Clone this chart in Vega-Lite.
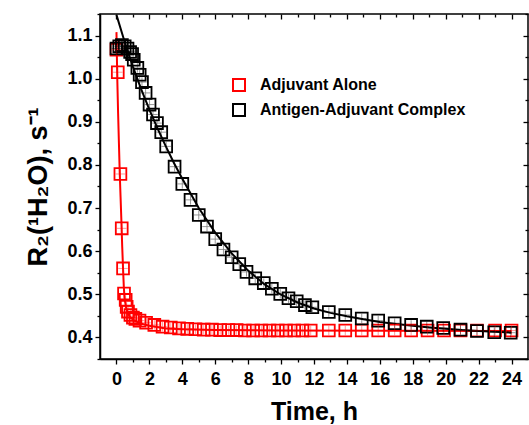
{
  "$schema": "https://vega.github.io/schema/vega-lite/v6.json",
  "width": 428,
  "height": 345,
  "autosize": {"type": "none"},
  "padding": {"left": 100, "top": 14, "right": 1, "bottom": 66},
  "background": "white",
  "config": {
    "view": {"stroke": "black", "strokeWidth": 1.5},
    "font": "Liberation Sans",
    "axis": {
      "domainColor": "black", "domainWidth": 1.5, "tickColor": "black", "tickWidth": 1.3,
      "labelFont": "Liberation Sans", "labelFontWeight": "bold", "labelFontSize": 18, "labelColor": "black",
      "titleFont": "Liberation Sans", "titleFontWeight": "bold", "titleColor": "black", "grid": false
    }
  },
  "datasets": {
    "pts": [
      {"series": "Adjuvant Alone", "t": 0.0, "r2": 1.067},
      {"series": "Adjuvant Alone", "t": 0.08, "r2": 1.015},
      {"series": "Adjuvant Alone", "t": 0.24, "r2": 0.779},
      {"series": "Adjuvant Alone", "t": 0.32, "r2": 0.653},
      {"series": "Adjuvant Alone", "t": 0.40, "r2": 0.560},
      {"series": "Adjuvant Alone", "t": 0.46, "r2": 0.502},
      {"series": "Adjuvant Alone", "t": 0.56, "r2": 0.487},
      {"series": "Adjuvant Alone", "t": 0.62, "r2": 0.471},
      {"series": "Adjuvant Alone", "t": 0.70, "r2": 0.460},
      {"series": "Adjuvant Alone", "t": 0.85, "r2": 0.452},
      {"series": "Adjuvant Alone", "t": 1.0, "r2": 0.446},
      {"series": "Adjuvant Alone", "t": 1.15, "r2": 0.443},
      {"series": "Adjuvant Alone", "t": 1.4, "r2": 0.439},
      {"series": "Adjuvant Alone", "t": 1.8, "r2": 0.434},
      {"series": "Adjuvant Alone", "t": 2.3, "r2": 0.429},
      {"series": "Adjuvant Alone", "t": 2.8, "r2": 0.425},
      {"series": "Adjuvant Alone", "t": 3.3, "r2": 0.423},
      {"series": "Adjuvant Alone", "t": 3.8, "r2": 0.421},
      {"series": "Adjuvant Alone", "t": 4.3, "r2": 0.420},
      {"series": "Adjuvant Alone", "t": 4.8, "r2": 0.419},
      {"series": "Adjuvant Alone", "t": 5.3, "r2": 0.418},
      {"series": "Adjuvant Alone", "t": 5.8, "r2": 0.418},
      {"series": "Adjuvant Alone", "t": 6.3, "r2": 0.417},
      {"series": "Adjuvant Alone", "t": 6.8, "r2": 0.417},
      {"series": "Adjuvant Alone", "t": 7.3, "r2": 0.417},
      {"series": "Adjuvant Alone", "t": 7.8, "r2": 0.416},
      {"series": "Adjuvant Alone", "t": 8.3, "r2": 0.416},
      {"series": "Adjuvant Alone", "t": 8.8, "r2": 0.416},
      {"series": "Adjuvant Alone", "t": 9.3, "r2": 0.416},
      {"series": "Adjuvant Alone", "t": 9.8, "r2": 0.416},
      {"series": "Adjuvant Alone", "t": 10.3, "r2": 0.416},
      {"series": "Adjuvant Alone", "t": 10.8, "r2": 0.416},
      {"series": "Adjuvant Alone", "t": 11.3, "r2": 0.416},
      {"series": "Adjuvant Alone", "t": 11.8, "r2": 0.416},
      {"series": "Adjuvant Alone", "t": 12.9, "r2": 0.416},
      {"series": "Adjuvant Alone", "t": 13.9, "r2": 0.416},
      {"series": "Adjuvant Alone", "t": 14.9, "r2": 0.416},
      {"series": "Adjuvant Alone", "t": 15.9, "r2": 0.416},
      {"series": "Adjuvant Alone", "t": 16.9, "r2": 0.416},
      {"series": "Adjuvant Alone", "t": 17.9, "r2": 0.416},
      {"series": "Adjuvant Alone", "t": 18.9, "r2": 0.416},
      {"series": "Adjuvant Alone", "t": 19.9, "r2": 0.416},
      {"series": "Adjuvant Alone", "t": 20.9, "r2": 0.416},
      {"series": "Adjuvant Alone", "t": 21.9, "r2": 0.416},
      {"series": "Adjuvant Alone", "t": 23.0, "r2": 0.416},
      {"series": "Adjuvant Alone", "t": 24.0, "r2": 0.416},
      {"series": "Antigen-Adjuvant Complex", "t": 0.0, "r2": 1.070},
      {"series": "Antigen-Adjuvant Complex", "t": 0.17, "r2": 1.075},
      {"series": "Antigen-Adjuvant Complex", "t": 0.33, "r2": 1.078},
      {"series": "Antigen-Adjuvant Complex", "t": 0.5, "r2": 1.075},
      {"series": "Antigen-Adjuvant Complex", "t": 0.67, "r2": 1.070},
      {"series": "Antigen-Adjuvant Complex", "t": 0.83, "r2": 1.062},
      {"series": "Antigen-Adjuvant Complex", "t": 0.95, "r2": 1.057},
      {"series": "Antigen-Adjuvant Complex", "t": 1.05, "r2": 1.044},
      {"series": "Antigen-Adjuvant Complex", "t": 1.27, "r2": 1.025},
      {"series": "Antigen-Adjuvant Complex", "t": 1.41, "r2": 1.009},
      {"series": "Antigen-Adjuvant Complex", "t": 1.55, "r2": 0.992},
      {"series": "Antigen-Adjuvant Complex", "t": 1.77, "r2": 0.967},
      {"series": "Antigen-Adjuvant Complex", "t": 2.01, "r2": 0.940},
      {"series": "Antigen-Adjuvant Complex", "t": 2.22, "r2": 0.917},
      {"series": "Antigen-Adjuvant Complex", "t": 2.46, "r2": 0.897},
      {"series": "Antigen-Adjuvant Complex", "t": 2.72, "r2": 0.876},
      {"series": "Antigen-Adjuvant Complex", "t": 3.02, "r2": 0.843},
      {"series": "Antigen-Adjuvant Complex", "t": 3.53, "r2": 0.796},
      {"series": "Antigen-Adjuvant Complex", "t": 4.0, "r2": 0.756},
      {"series": "Antigen-Adjuvant Complex", "t": 4.5, "r2": 0.719},
      {"series": "Antigen-Adjuvant Complex", "t": 5.0, "r2": 0.684},
      {"series": "Antigen-Adjuvant Complex", "t": 5.5, "r2": 0.657},
      {"series": "Antigen-Adjuvant Complex", "t": 6.0, "r2": 0.628},
      {"series": "Antigen-Adjuvant Complex", "t": 6.5, "r2": 0.604},
      {"series": "Antigen-Adjuvant Complex", "t": 7.0, "r2": 0.586},
      {"series": "Antigen-Adjuvant Complex", "t": 7.46, "r2": 0.570},
      {"series": "Antigen-Adjuvant Complex", "t": 7.9, "r2": 0.552},
      {"series": "Antigen-Adjuvant Complex", "t": 8.43, "r2": 0.537},
      {"series": "Antigen-Adjuvant Complex", "t": 8.95, "r2": 0.526},
      {"series": "Antigen-Adjuvant Complex", "t": 9.44, "r2": 0.513},
      {"series": "Antigen-Adjuvant Complex", "t": 9.95, "r2": 0.501},
      {"series": "Antigen-Adjuvant Complex", "t": 10.45, "r2": 0.491},
      {"series": "Antigen-Adjuvant Complex", "t": 10.95, "r2": 0.484},
      {"series": "Antigen-Adjuvant Complex", "t": 11.45, "r2": 0.475},
      {"series": "Antigen-Adjuvant Complex", "t": 11.9, "r2": 0.470},
      {"series": "Antigen-Adjuvant Complex", "t": 12.9, "r2": 0.459},
      {"series": "Antigen-Adjuvant Complex", "t": 13.9, "r2": 0.452},
      {"series": "Antigen-Adjuvant Complex", "t": 14.9, "r2": 0.444},
      {"series": "Antigen-Adjuvant Complex", "t": 15.9, "r2": 0.439},
      {"series": "Antigen-Adjuvant Complex", "t": 16.9, "r2": 0.433},
      {"series": "Antigen-Adjuvant Complex", "t": 17.9, "r2": 0.429},
      {"series": "Antigen-Adjuvant Complex", "t": 18.85, "r2": 0.425},
      {"series": "Antigen-Adjuvant Complex", "t": 19.85, "r2": 0.422},
      {"series": "Antigen-Adjuvant Complex", "t": 20.9, "r2": 0.418},
      {"series": "Antigen-Adjuvant Complex", "t": 21.9, "r2": 0.415},
      {"series": "Antigen-Adjuvant Complex", "t": 22.95, "r2": 0.412},
      {"series": "Antigen-Adjuvant Complex", "t": 23.95, "r2": 0.411}
    ],
    "fitRed": [
      {"t": 0.0, "r2": 1.108}, {"t": 0.05, "r2": 1.0}, {"t": 0.1, "r2": 0.92}, {"t": 0.15, "r2": 0.85},
      {"t": 0.2, "r2": 0.78}, {"t": 0.25, "r2": 0.725}, {"t": 0.3, "r2": 0.67}, {"t": 0.35, "r2": 0.61},
      {"t": 0.4, "r2": 0.56}, {"t": 0.45, "r2": 0.515}, {"t": 0.5, "r2": 0.488}, {"t": 0.6, "r2": 0.466},
      {"t": 0.8, "r2": 0.448}, {"t": 1.0, "r2": 0.441}, {"t": 1.4, "r2": 0.433}, {"t": 2.0, "r2": 0.427},
      {"t": 3.0, "r2": 0.421}, {"t": 4.0, "r2": 0.419}, {"t": 6.0, "r2": 0.417}, {"t": 10.0, "r2": 0.416},
      {"t": 24.0, "r2": 0.415}
    ],
    "fitBlack": [
      {"t": 0.0, "r2": 1.148}, {"t": 0.5, "r2": 1.085}, {"t": 1.0, "r2": 1.028}, {"t": 1.5, "r2": 0.976},
      {"t": 2.0, "r2": 0.928}, {"t": 2.5, "r2": 0.884}, {"t": 3.0, "r2": 0.843}, {"t": 3.5, "r2": 0.804},
      {"t": 4.0, "r2": 0.768}, {"t": 5.0, "r2": 0.700}, {"t": 6.0, "r2": 0.643}, {"t": 7.0, "r2": 0.595},
      {"t": 8.0, "r2": 0.555}, {"t": 9.0, "r2": 0.523}, {"t": 10.0, "r2": 0.499}, {"t": 11.0, "r2": 0.481},
      {"t": 12.0, "r2": 0.467}, {"t": 13.0, "r2": 0.457}, {"t": 14.0, "r2": 0.449}, {"t": 15.0, "r2": 0.442},
      {"t": 16.0, "r2": 0.436}, {"t": 17.0, "r2": 0.431}, {"t": 18.0, "r2": 0.427}, {"t": 19.0, "r2": 0.423},
      {"t": 20.0, "r2": 0.420}, {"t": 21.0, "r2": 0.417}, {"t": 22.0, "r2": 0.415}, {"t": 23.0, "r2": 0.413},
      {"t": 24.0, "r2": 0.411}
    ]
  },
  "resolve": {"axis": {"x": "independent", "y": "independent"}},
  "layer": [
    {
      "data": {"name": "fitRed"},
      "mark": {"type": "line", "color": "#ff0000", "strokeWidth": 2, "clip": true},
      "encoding": {
        "x": {"field": "t", "type": "quantitative", "scale": {"domain": [-1, 25], "nice": false, "zero": false},
          "axis": {"orient": "bottom", "title": "Time, h", "titleFontSize": 25, "titlePadding": 11,
            "values": [0,1,2,3,4,5,6,7,8,9,10,11,12,13,14,15,16,17,18,19,20,21,22,23,24],
            "labelExpr": "datum.value % 2 == 0 ? datum.label : ''",
            "tickSize": {"condition": {"test": "datum.value % 2 == 0", "value": 5}, "value": 3},
            "labelPadding": 6}},
        "y": {"field": "r2", "type": "quantitative", "scale": {"domain": [0.35, 1.15], "nice": false, "zero": false},
          "axis": {"orient": "left", "title": "R₂(¹H₂O), s⁻¹", "titleFontSize": 27, "titlePadding": 14,
            "values": [0.35,0.4,0.45,0.5,0.55,0.6,0.65,0.7,0.75,0.8,0.85,0.9,0.95,1.0,1.05,1.1,1.15],
            "labelExpr": "abs(datum.value*10 - round(datum.value*10)) < 0.001 && datum.value < 1.14 && datum.value > 0.36 ? format(datum.value, '.1f') : ''",
            "tickSize": {"condition": {"test": "abs(datum.value*10 - round(datum.value*10)) < 0.001", "value": 5}, "value": 3},
            "labelPadding": 3}}
      }
    },
    {
      "data": {"name": "fitBlack"},
      "mark": {"type": "line", "color": "#000000", "strokeWidth": 2, "clip": true},
      "encoding": {
        "x": {"field": "t", "type": "quantitative", "axis": null},
        "y": {"field": "r2", "type": "quantitative", "axis": null}
      }
    },
    {
      "data": {"name": "pts"},
      "mark": {"type": "point", "shape": "square", "filled": false, "size": 140, "strokeWidth": 1.8, "opacity": 1},
      "encoding": {
        "x": {"field": "t", "type": "quantitative",
          "axis": {"orient": "top", "title": null, "labels": false, "domain": false,
            "values": [0,1,2,3,4,5,6,7,8,9,10,11,12,13,14,15,16,17,18,19,20,21,22,23,24],
            "tickSize": {"condition": {"test": "datum.value % 2 == 0", "value": -5}, "value": -3}}},
        "y": {"field": "r2", "type": "quantitative",
          "axis": {"orient": "right", "title": null, "labels": false, "domain": false,
            "values": [0.35,0.4,0.45,0.5,0.55,0.6,0.65,0.7,0.75,0.8,0.85,0.9,0.95,1.0,1.05,1.1,1.15],
            "tickSize": {"condition": {"test": "abs(datum.value*10 - round(datum.value*10)) < 0.001", "value": -5}, "value": -3}}},
        "color": {"field": "series", "type": "nominal",
          "scale": {"domain": ["Adjuvant Alone", "Antigen-Adjuvant Complex"], "range": ["#ff0000", "#000000"]},
          "legend": {"title": null, "orient": "none", "legendX": 131, "legendY": 63, "padding": 0,
            "symbolType": "square", "symbolSize": 144, "symbolStrokeWidth": 2, "symbolFillColor": "transparent",
            "labelFont": "Liberation Sans", "labelFontWeight": "bold", "labelFontSize": 16, "labelColor": "black",
            "labelLimit": 0, "labelOffset": 13, "rowPadding": 5}}
      }
    },
    {
      "data": {"name": "pts"},
      "mark": {"type": "point", "shape": "M0,-1V1M-1,0H1", "filled": false, "size": 90, "strokeWidth": 0.8, "opacity": 0.5},
      "encoding": {
        "x": {"field": "t", "type": "quantitative", "axis": null},
        "y": {"field": "r2", "type": "quantitative", "axis": null},
        "color": {"field": "series", "type": "nominal", "legend": null}
      }
    }
  ]
}
